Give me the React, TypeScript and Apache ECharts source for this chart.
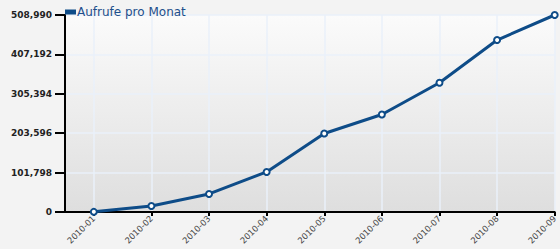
import React, { useEffect, useRef } from "react";
import * as echarts from "echarts";

const categories = ["2010-01", "2010-02", "2010-03", "2010-04", "2010-05", "2010-06", "2010-07", "2010-08", "2010-09"];
const visits = [400, 15500, 46600, 103500, 202900, 252000, 333800, 444300, 508990];
const yTicks = [0, 101798, 203596, 305394, 407192, 508990];
const seriesName = "Aufrufe pro Monat";

export default function App() {
  const ref = useRef<HTMLDivElement>(null);
  useEffect(() => {
    document.body.style.margin = "0";
    const chart = echarts.init(ref.current!, null, { renderer: "svg" });
    const idx = categories.map((_, i) => i);
    chart.setOption({
      animation: false,
      backgroundColor: "#f3f3f3",
      legend: {
        show: true,
        left: 60,
        top: 1,
        icon: "rect",
        itemWidth: 9,
        itemHeight: 3,
        textStyle: { fontFamily: "DejaVu Sans", fontSize: 12, color: "#1d4f8c", padding: [0, 0, 0, -3] },
        data: [seriesName],
      },
      grid: {
        left: 65,
        right: 3,
        top: 15,
        bottom: 37,
        show: true,
        borderWidth: 0,
        backgroundColor: {
          type: "linear", x: 0, y: 0, x2: 0, y2: 1,
          colorStops: [
            { offset: 0, color: "#fbfbfb" },
            { offset: 1, color: "#dedede" },
          ],
        },
      },
      xAxis: {
        type: "value",
        min: -0.5,
        max: categories.length - 1,
        axisLine: { show: true, onZero: false, lineStyle: { color: "#000", width: 2 } },
        axisTick: { show: true, length: 4, customValues: idx, lineStyle: { color: "#000", width: 2 } },
        axisLabel: {
          customValues: idx,
          rotate: 45,
          fontFamily: "DejaVu Sans",
          fontSize: 8.5,
          color: "#444",
          margin: 5,
          formatter: (v: number) => categories[Math.round(v)] ?? "",
        },
        splitLine: { show: true, lineStyle: { color: "#eaf0fa", width: 1.5 } },
      },
      yAxis: {
        type: "value",
        min: 0,
        max: yTicks[yTicks.length - 1],
        interval: yTicks[1],
        axisLine: { show: true, onZero: false, lineStyle: { color: "#000", width: 2 } },
        axisTick: { show: true, length: 10, lineStyle: { color: "#000", width: 2 } },
        axisLabel: {
          fontFamily: "DejaVu Sans",
          fontSize: 9,
          fontWeight: "bold",
          color: "#222",
          margin: 13,
          formatter: (v: number) => v.toLocaleString("en-US"),
        },
        splitLine: { show: true, lineStyle: { color: "#eaf0fa", width: 1.5 } },
      },
      series: [
        {
          name: seriesName,
          type: "line",
          data: visits.map((v, i) => [i, v]),
          color: "#0e4c88",
          lineStyle: { width: 3, color: "#0e4c88" },
          symbol: "emptyCircle",
          symbolSize: 6,
          itemStyle: { color: "#0e4c88", borderWidth: 2, borderColor: "#0e4c88" },
          clip: false,
        },
      ],
    });
    return () => chart.dispose();
  }, []);
  return <div ref={ref} style={{ width: 560, height: 249 }} />;
}
